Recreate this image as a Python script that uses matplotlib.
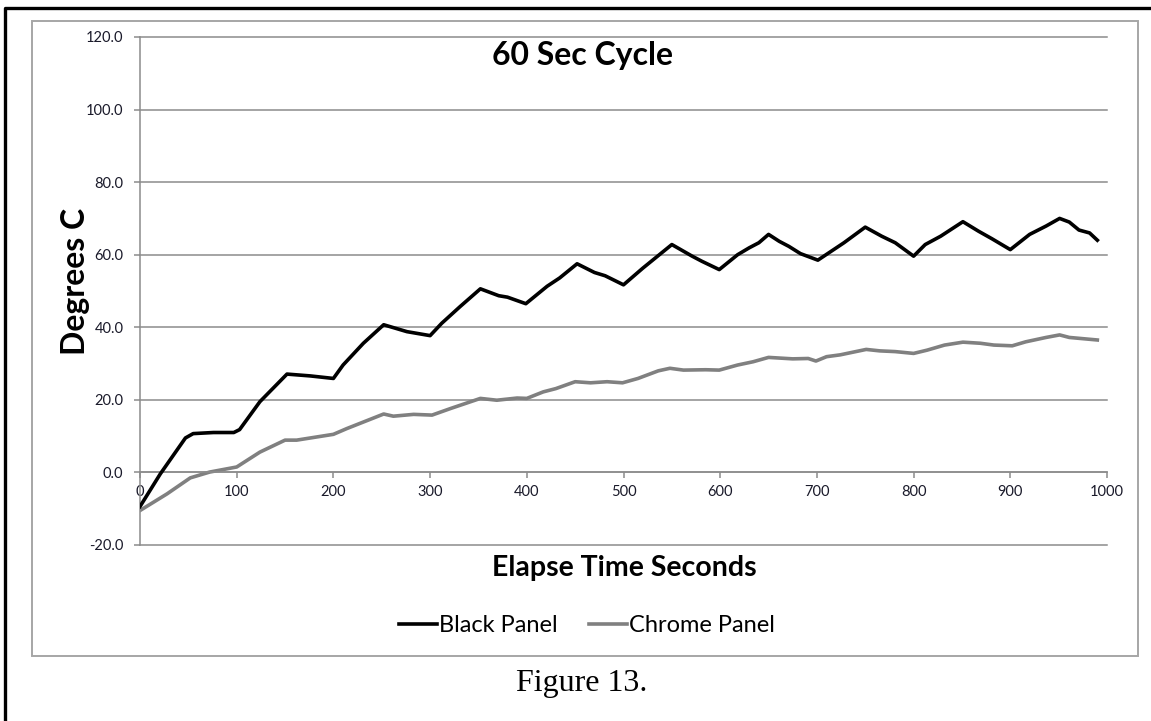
import matplotlib.pyplot as plt
from matplotlib.patches import Rectangle
from matplotlib.lines import Line2D

# data
black_t = [0, 21, 47, 55, 76, 97, 103, 124, 152, 176, 200, 210, 231, 252, 276, 300,
           312, 331, 352, 371, 380, 399, 421, 434, 452, 470, 481, 500, 520, 550, 571,
           581, 599, 618, 630, 640, 650, 661, 671, 683, 701, 728, 750, 767, 781, 800,
           812, 828, 851, 867, 881, 900, 920, 937, 951, 961, 971, 982, 990]
black_c = [-9.4, -0.4, 9.5, 10.7, 11.0, 11.0, 11.8, 19.5, 27.1, 26.6, 25.9, 29.6, 35.6,
           40.7, 38.8, 37.7, 41.1, 45.7, 50.6, 48.7, 48.3, 46.5, 51.3, 53.6, 57.5, 55.1,
           54.2, 51.7, 56.3, 62.8, 59.6, 58.2, 55.9, 60.0, 61.9, 63.3, 65.6, 63.7, 62.3,
           60.3, 58.5, 63.3, 67.6, 65.1, 63.3, 59.6, 62.8, 65.1, 69.1, 66.5, 64.4, 61.4,
           65.6, 67.9, 70.0, 69.0, 66.8, 66.0, 64.0]

chrome_t = [0, 28, 52, 72, 100, 124, 150, 162, 200, 214, 252, 262, 283, 302, 321, 352,
            369, 390, 400, 417, 430, 450, 466, 483, 499, 515, 536, 548, 562, 585, 599,
            618, 634, 650, 675, 691, 699, 710, 724, 751, 765, 781, 800, 814, 832, 851,
            869, 883, 902, 916, 937, 951, 961, 990]
chrome_c = [-10.5, -5.9, -1.5, 0.1, 1.5, 5.6, 8.9, 8.9, 10.5, 12.1, 16.1, 15.5, 16.0,
            15.8, 17.6, 20.4, 19.9, 20.5, 20.4, 22.2, 23.1, 25.0, 24.7, 25.0, 24.7, 25.9,
            28.0, 28.7, 28.2, 28.3, 28.2, 29.6, 30.5, 31.7, 31.3, 31.4, 30.7, 31.9, 32.4,
            33.9, 33.5, 33.3, 32.8, 33.7, 35.1, 35.9, 35.6, 35.1, 34.9, 36.0, 37.2, 37.9,
            37.2, 36.5]

y_ticks = [-20, 0, 20, 40, 60, 80, 100, 120]
x_ticks = [0, 100, 200, 300, 400, 500, 600, 700, 800, 900, 1000]

W, H = 1151, 721
fig = plt.figure(figsize=(W / 100, H / 100), dpi=100)

def fx(px):
    return px / W

def fy(py):
    return 1 - py / H

# page border (top and left) and chart box
fig.add_artist(Line2D([fx(5), fx(5), fx(W)], [0, fy(8), fy(8)], color='black', lw=2.4))
fig.add_artist(Rectangle((fx(32), fy(656)), fx(1138) - fx(32), fy(20.5) - fy(656),
                         fill=False, edgecolor='#a6a6a6', lw=1.4))

ax = fig.add_axes([fx(140), fy(545), fx(1107) - fx(140), fy(37) - fy(545)])
ax.set_xlim(0, 1000)
ax.set_ylim(-20, 120)

for yv in y_ticks:
    ax.axhline(yv, color='#8c8c8c', lw=1.1, zorder=1, clip_on=False)

ax.plot(black_t, black_c, color='black', lw=2.6, solid_joinstyle='round', zorder=3)
ax.plot(chrome_t, chrome_c, color='#808080', lw=2.6, solid_joinstyle='round', zorder=2)

for s in ['top', 'right']:
    ax.spines[s].set_visible(False)
ax.spines['left'].set_color('#8c8c8c')
ax.spines['bottom'].set_color('#8c8c8c')
ax.spines['bottom'].set_position(('data', 0))
ax.spines['left'].set_linewidth(1.1)
ax.spines['bottom'].set_linewidth(1.1)

ax.set_yticks(y_ticks)
ax.set_yticklabels([f'{v:.1f}' for v in y_ticks])
ax.set_xticks(x_ticks)
ax.set_xticklabels([str(v) for v in x_ticks])
ax.tick_params(axis='both', colors='#8c8c8c', labelcolor='#1a1a2a', labelsize=10.5,
               length=4, width=1.1, direction='out')
ax.tick_params(axis='x', pad=5)
ax.tick_params(axis='y', pad=8)
for lab in ax.get_xticklabels() + ax.get_yticklabels():
    lab.set_family('Lato')

fig.text(fx(583), fy(55), '60 Sec Cycle', ha='center', va='center',
         family='Lato', weight='bold', fontsize=23)
fig.text(fx(624), fy(568), 'Elapse Time Seconds', ha='center', va='center',
         family='Lato', weight='bold', fontsize=20.5)
fig.text(fx(76), fy(281), 'Degrees C', ha='center', va='center', rotation=90,
         family='Lato', weight='bold', fontsize=23)
fig.text(fx(582), fy(683), 'Figure 13.', ha='center', va='center',
         family='Liberation Serif', fontsize=23)

handles = [Line2D([], [], color='black', lw=2.6), Line2D([], [], color='#808080', lw=2.6)]
fig.legend(handles, ['Black Panel', 'Chrome Panel'], loc='center',
           bbox_to_anchor=(fx(587), fy(626)), ncol=2, frameon=False,
           prop={'family': 'Lato', 'size': 17}, handlelength=1.6, handletextpad=0.1,
           columnspacing=1.3)

fig.savefig('out.png', dpi=100)
